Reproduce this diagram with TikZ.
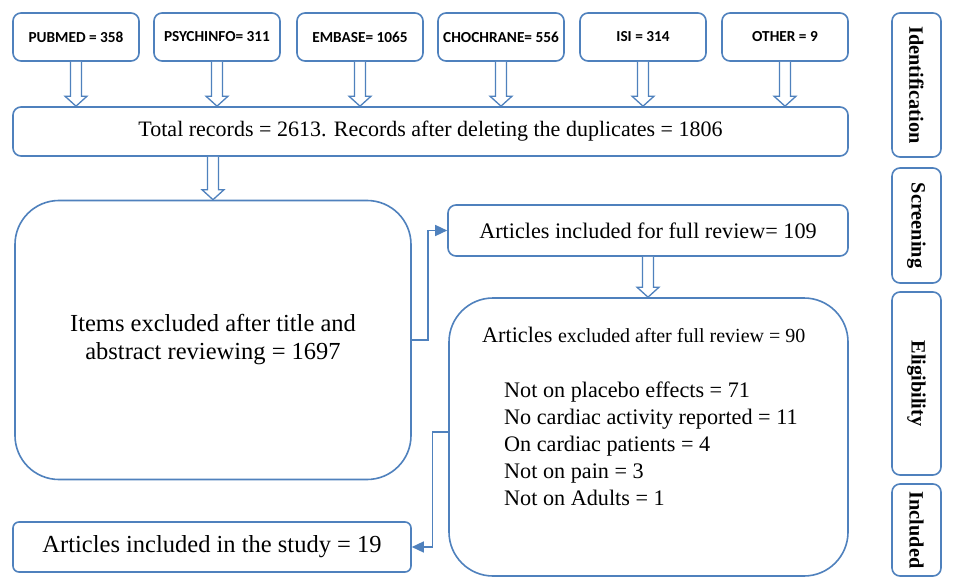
\documentclass[tikz,border=0pt]{standalone}
\usepackage{fontspec}
\setmainfont{Liberation Serif}
\newfontfamily\carlito{Carlito}
\usetikzlibrary{arrows.meta,calc}
\definecolor{boxblue}{HTML}{4F81BD}
\tikzset{
  src/.style={draw=boxblue, line width=1.6pt, rounded corners=8pt, minimum width=126pt, minimum height=48pt, inner sep=0pt, font=\carlito\bfseries\fontsize{15.3}{18}\selectfont},
  wide/.style={draw=boxblue, line width=1.6pt, rounded corners=8pt, inner sep=0pt, font=\fontsize{22}{26}\selectfont},
  bigbox/.style={draw=boxblue, line width=1.6pt, rounded corners=44pt, inner sep=0pt},
  phase/.style={draw=boxblue, line width=1.6pt, rounded corners=8pt, inner sep=0pt, minimum width=49pt},
  phasetext/.style={rotate=-90, inner sep=0pt, font=\bfseries\fontsize{20.3}{24}\selectfont},
  listtext/.style={anchor=base west, inner sep=0pt, font=\fontsize{22.2}{26}\selectfont},
  hollow/.style={draw=boxblue, line width=1.3pt, fill=white, line join=miter},
  conn/.style={draw=boxblue, line width=1.4pt, -{Triangle[length=12pt,width=11pt]}}
}
\newcommand\blockarrow[2]{%
  \draw[hollow] let \p1=#1, \p2=#2 in
    (\x1-5.5pt,\y1) -- (\x1-5.5pt,\y2+10pt) -- (\x1-11pt,\y2+10pt) -- (\x1,\y2)
    -- (\x1+11pt,\y2+10pt) -- (\x1+5.5pt,\y2+10pt) -- (\x1+5.5pt,\y1);}
\begin{document}
\begin{tikzpicture}[x=1pt,y=-1pt]
\useasboundingbox[fill=white] (0,0) rectangle (957,585);

% source boxes
\node[src] (pub)   at (76,37)  {PUBMED = 358};
\node[src] (psy)   at (217,37) {PSYCHINFO= 311};
\node[src] (emb)   at (360,37) {EMBASE= 1065};
\node[src] (coch)  at (501,37) {CHOCHRANE= 556};
\node[src] (isi)   at (643,37) {ISI = 314};
\node[src] (oth)   at (785,37) {OTHER = 9};

\node[wide, minimum width=835pt, minimum height=49pt] (total) at (430.5,131.5)
  {Total records = 2613. Records after deleting the duplicates = 1806};

\node[bigbox, minimum width=396pt, minimum height=279pt, align=center,
      font=\fontsize{24.5}{28}\selectfont] (items) at (213,340)
  {Items excluded after title and\\abstract reviewing = 1697};

\node[wide, minimum width=400pt, minimum height=51pt, font=\fontsize{22.2}{26}\selectfont] (full) at (648,230.5)
  {Articles included for full review= 109};

\node[bigbox, minimum width=399pt, minimum height=278pt] (excl) at (648.5,437) {};
\node[listtext] (exh) at (482,342) {Articles {\fontsize{20}{24}\selectfont excluded after full review = 90}};
\node[listtext] (l1) at (504,397) {Not on placebo effects = 71};
\node[listtext] (l2) at (504,424) {No cardiac activity reported = 11};
\node[listtext] (l3) at (504,451) {On cardiac patients = 4};
\node[listtext] (l4) at (504,478) {Not on pain = 3};
\node[listtext] (l5) at (504,505) {Not on Adults = 1};

\node[wide, rounded corners=6pt, minimum width=398pt, minimum height=50pt,
      font=\fontsize{24.5}{28}\selectfont] (study) at (212,547)
  {Articles included in the study = 19};

% phase boxes
\node[phase, minimum height=144pt] (pid) at (916.5,85) {};
\node[phasetext] (tid) at (pid.center) {Identification};
\node[phase, minimum height=115pt] (psc) at (916.5,225.5) {};
\node[phasetext] (tsc) at (psc.center) {Screening};
\node[phase, minimum height=183pt] (pel) at (916.5,383.5) {};
\node[phasetext] (tel) at (pel.center) {Eligibility};
\node[phase, minimum height=92pt] (pin) at (916.5,530) {};
\node[phasetext] (tin) at (pin.center) {Included};

% block arrows
\blockarrow{(pub.south)}{(pub.south |- total.north)}
\blockarrow{(psy.south)}{(psy.south |- total.north)}
\blockarrow{(emb.south)}{(emb.south |- total.north)}
\blockarrow{(coch.south)}{(coch.south |- total.north)}
\blockarrow{(isi.south)}{(isi.south |- total.north)}
\blockarrow{(oth.south)}{(oth.south |- total.north)}
\blockarrow{(items.north |- total.south)}{(items.north)}
\blockarrow{(full.south)}{(full.south |- excl.north)}

% elbow connectors
\draw[conn] (items.east) -- ++(16,0) |- (full.west);
\draw[conn] (excl.west) ++(0,-5) -- ++(-16,0) |- (study.east);
\end{tikzpicture}
\end{document}
